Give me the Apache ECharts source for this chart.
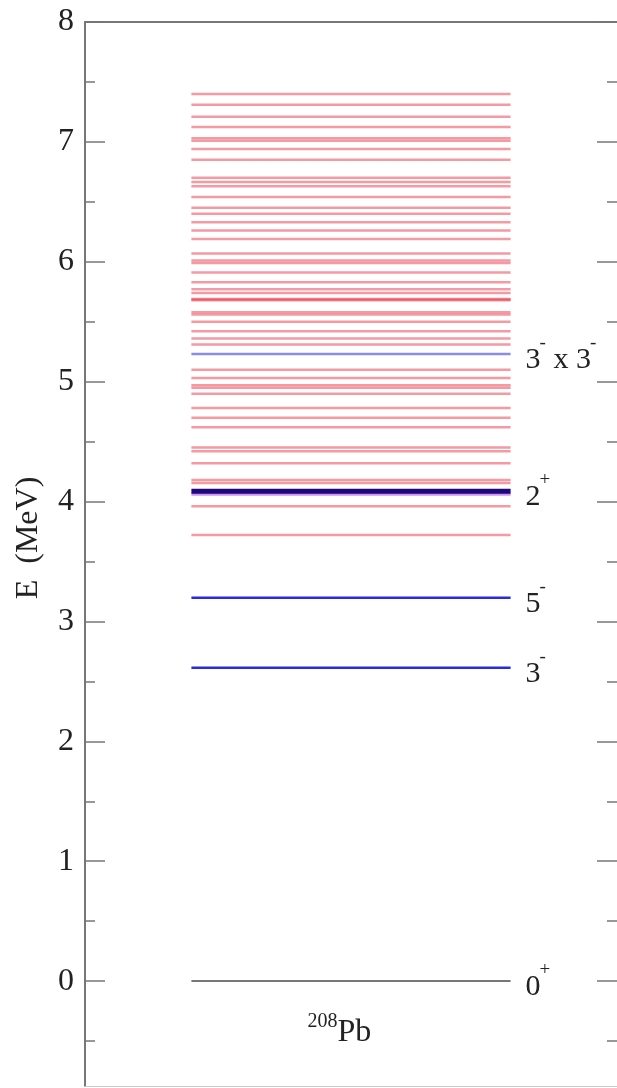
<!DOCTYPE html>
<html>
<head>
<meta charset="utf-8">
<script src="https://cdn.jsdelivr.net/npm/echarts@6/dist/echarts.min.js"></script>
<style>
html,body{margin:0;padding:0;background:#fff;}
#chart{width:617px;height:1088px;}
</style>
</head>
<body>
<div id="chart"></div>
<script>
// ---- data ----
const groundLevels = [0.0];
const collectiveLevels = [2.614, 3.198, 4.085, 5.23];
const levelLabels = ['0^+', '3^-', '5^-', '2^+', '3^- x 3^-'];
const labelLevels = [0.0, 2.614, 3.198, 4.085, 5.23];
const twoPhononLevels = [4.06];
const calcLevels = [
  7.40, 7.31, 7.21, 7.125, 7.03, 7.01, 6.94, 6.85,
  6.70, 6.665, 6.63, 6.54, 6.45, 6.40, 6.33, 6.26, 6.19,
  6.07, 6.01, 5.99, 5.91, 5.83, 5.77, 5.74, 5.69, 5.685, 5.68,
  5.58, 5.56, 5.50, 5.42, 5.36, 5.31,
  5.10, 5.03, 4.97, 4.95, 4.90, 4.78, 4.70, 4.62,
  4.45, 4.42, 4.32, 4.18, 4.155, 3.96, 3.72
];
const yMin = -0.875, yMax = 8;
const majorTicks = [0, 1, 2, 3, 4, 5, 6, 7, 8];
const minorTicks = [-0.5, 0.5, 1.5, 2.5, 3.5, 4.5, 5.5, 6.5, 7.5];
const nucleusLabel = '^208Pb';
const yTitle = 'E  (MeV)';

// ---- drawing ----
const X0 = 0.2, X1 = 0.8;
const FONT = 'Liberation Serif';
const mctx = document.createElement('canvas').getContext('2d');
function textW(t, size) { mctx.font = size + 'px "' + FONT + '"'; return mctx.measureText(t).width; }

function levelRender(color, width) {
  return function (params, api) {
    const e = api.value(0);
    const a = api.coord([X0, e]);
    const b = api.coord([X1, e]);
    return {
      type: 'line',
      shape: { x1: a[0], y1: a[1], x2: b[0], y2: b[1] },
      style: { stroke: color, lineWidth: width }
    };
  };
}

const collectiveColors = ['#2a2ae0', '#2a2ae0', '#1c0878', 'rgba(110,110,230,0.8)'];
const collectiveWidths = [2.5, 2.5, 5, 2.5];

// split "3^- x 3^-" into normal / superscript tokens and lay them out
function buildLabel(s, x, y, size, supSize, raise, align, supShift) {
  const tokens = [];
  const re = /\^(\d+|[+-])/g;
  let last = 0, m;
  while ((m = re.exec(s)) !== null) {
    if (m.index > last) tokens.push({ t: s.slice(last, m.index), sup: false });
    tokens.push({ t: m[1], sup: true });
    last = re.lastIndex;
  }
  if (last < s.length) tokens.push({ t: s.slice(last), sup: false });
  let total = 0;
  tokens.forEach(k => { k.w = textW(k.t, k.sup ? supSize : size) + (k.sup ? supShift : 0); total += k.w; });
  let cx = align === 'center' ? x - total / 2 : x;
  const children = tokens.map(k => {
    const el = {
      type: 'text', x: cx + (k.sup ? supShift : 0), y: k.sup ? y - raise : y,
      style: { text: k.t, font: (k.sup ? supSize : size) + 'px "' + FONT + '"', fill: '#222',
        align: 'left', verticalAlign: 'middle' }
    };
    cx += k.w;
    return el;
  });
  return { type: 'group', children: children };
}

const chart = echarts.init(document.getElementById('chart'), null, { renderer: 'canvas' });

const axisColor = '#777';
function yAx(pos, ticks, len, withLine, withLabels) {
  return {
    type: 'value', min: yMin, max: yMax, position: pos,
    axisLine: { show: withLine, onZero: false, lineStyle: { color: axisColor, width: 2 } },
    axisTick: { show: true, inside: true, length: len, customValues: ticks, lineStyle: { color: axisColor, width: 1.5 } },
    axisLabel: withLabels
      ? { show: true, margin: 11, fontFamily: FONT, fontSize: 32, color: '#222', customValues: majorTicks }
      : { show: false },
    splitLine: { show: false }
  };
}

const option = {
  animation: false,
  backgroundColor: '#fff',
  grid: { left: 85, right: 0, top: 22, bottom: 2 },
  xAxis: [
    { type: 'value', min: 0, max: 1, position: 'bottom',
      axisLine: { show: true, onZero: false, lineStyle: { color: '#ccc', width: 1 } },
      axisTick: { show: false }, axisLabel: { show: false }, splitLine: { show: false } },
    { type: 'value', min: 0, max: 1, position: 'top',
      axisLine: { show: true, onZero: false, lineStyle: { color: axisColor, width: 2 } },
      axisTick: { show: false }, axisLabel: { show: false }, splitLine: { show: false } }
  ],
  yAxis: [
    yAx('left', majorTicks, 20, true, true),
    yAx('left', minorTicks, 10, false, false),
    yAx('right', majorTicks, 20, false, false),
    yAx('right', minorTicks, 10, false, false)
  ],
  graphic: [
    {
      type: 'text', x: 29, y: 538, rotation: Math.PI / 2,
      style: { text: yTitle, font: '32px "' + FONT + '"', fill: '#222', align: 'center', verticalAlign: 'middle' }
    }
  ],
  series: [
    {
      type: 'custom', name: 'calc', xAxisIndex: 0, yAxisIndex: 0,
      data: calcLevels.map(e => [e]), encode: { y: 0 },
      renderItem: levelRender('rgba(238,80,95,0.58)', 2.5), z: 2
    },
    {
      type: 'custom', name: 'twoPhonon', xAxisIndex: 0, yAxisIndex: 0,
      data: twoPhononLevels.map(e => [e]), encode: { y: 0 },
      renderItem: levelRender('rgba(190,110,240,0.75)', 3), z: 3
    },
    {
      type: 'custom', name: 'ground', xAxisIndex: 0, yAxisIndex: 0,
      data: groundLevels.map(e => [e]), encode: { y: 0 },
      renderItem: levelRender('#777', 2), z: 3
    },
    {
      type: 'custom', name: 'collective', xAxisIndex: 0, yAxisIndex: 0,
      data: collectiveLevels.map(e => [e]), encode: { y: 0 },
      renderItem: function (params, api) {
        return levelRender(collectiveColors[params.dataIndex], collectiveWidths[params.dataIndex])(params, api);
      }, z: 4
    },
    {
      type: 'custom', name: 'labels', xAxisIndex: 0, yAxisIndex: 0,
      data: labelLevels.map((e, i) => [e, i]), encode: { y: 0 },
      renderItem: function (params, api) {
        const p = api.coord([X1, api.value(0)]);
        return buildLabel(levelLabels[params.dataIndex], p[0] + 15, p[1] + 6, 30, 19, 17, 'left', -1);
      }, z: 5
    },
    {
      type: 'custom', name: 'nucleus', xAxisIndex: 0, yAxisIndex: 0,
      data: [[-0.43]], encode: { y: 0 },
      renderItem: function (params, api) {
        const p = api.coord([0.478, api.value(0)]);
        return buildLabel(nucleusLabel, p[0], p[1], 32, 20, 11, 'center', 0);
      }, z: 5
    }
  ]
};
chart.setOption(option);
</script>
</body>
</html>
